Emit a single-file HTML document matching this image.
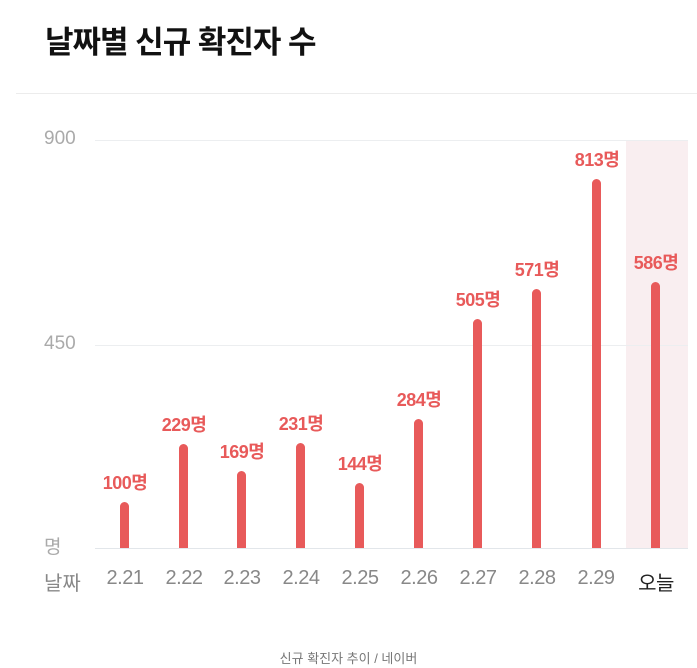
<!DOCTYPE html>
<html><head><meta charset="utf-8"><style>
body{margin:0;width:697px;height:668px;background:#fff;position:relative;overflow:hidden;font-family:"Liberation Sans","Noto Sans CJK KR",sans-serif}
.a{position:absolute}
.t{left:45px;top:17px;font-size:31px;font-weight:bold;color:#111;letter-spacing:-1px}
.bar{position:absolute;width:9px;background:#e85a5a;border-radius:5px 5px 0 0}
.v{position:absolute;width:80px;text-align:center;font-size:18px;font-weight:bold;color:#e85a5a;letter-spacing:-0.5px}
.x{position:absolute;width:60px;text-align:center;font-size:20px;color:#888;top:567px;letter-spacing:-0.5px}
.y{position:absolute;left:44px;font-size:19px;color:#aaa}
.g{position:absolute;left:95px;width:593px;height:1px;background:#eceef0}
</style></head><body>
<div class="a t">날짜별 신규 확진자 수</div>
<div class="a" style="left:16px;top:93px;width:681px;height:1px;background:#ececec"></div>
<div class="a" style="left:626px;top:140px;width:62px;height:408px;background:#f9eef0"></div>
<div class="g" style="top:140px"></div>
<div class="g" style="top:345px"></div>
<div class="g" style="top:548px;background:#e2e6ea"></div>
<div class="y" style="top:128px">900</div>
<div class="y" style="top:333px">450</div>
<div class="y" style="top:532px">명</div>
<div class="a" style="left:44px;top:567px;font-size:20px;color:#888">날짜</div>

<div class="bar" style="left:120px;top:502px;height:46px"></div>
<div class="bar" style="left:179px;top:444px;height:104px"></div>
<div class="bar" style="left:237px;top:471px;height:77px"></div>
<div class="bar" style="left:296px;top:443px;height:105px"></div>
<div class="bar" style="left:355px;top:483px;height:65px"></div>
<div class="bar" style="left:414px;top:419px;height:129px"></div>
<div class="bar" style="left:473px;top:319px;height:229px"></div>
<div class="bar" style="left:532px;top:289px;height:259px"></div>
<div class="bar" style="left:592px;top:179px;height:369px"></div>
<div class="bar" style="left:651px;top:282px;height:266px"></div>

<div class="v" style="left:85px;top:469px">100명</div>
<div class="v" style="left:144px;top:411px">229명</div>
<div class="v" style="left:202px;top:438px">169명</div>
<div class="v" style="left:261px;top:410px">231명</div>
<div class="v" style="left:320px;top:450px">144명</div>
<div class="v" style="left:379px;top:386px">284명</div>
<div class="v" style="left:438px;top:286px">505명</div>
<div class="v" style="left:497px;top:256px">571명</div>
<div class="v" style="left:557px;top:146px">813명</div>
<div class="v" style="left:616px;top:249px">586명</div>

<div class="x" style="left:95px">2.21</div>
<div class="x" style="left:154px">2.22</div>
<div class="x" style="left:212px">2.23</div>
<div class="x" style="left:271px">2.24</div>
<div class="x" style="left:330px">2.25</div>
<div class="x" style="left:389px">2.26</div>
<div class="x" style="left:448px">2.27</div>
<div class="x" style="left:507px">2.28</div>
<div class="x" style="left:566px">2.29</div>
<div class="x" style="left:626px;color:#222">오늘</div>

<div class="a" style="left:0;width:697px;text-align:center;top:648px;font-size:13px;color:#777">신규 확진자 추이 / 네이버</div>
</body></html>
